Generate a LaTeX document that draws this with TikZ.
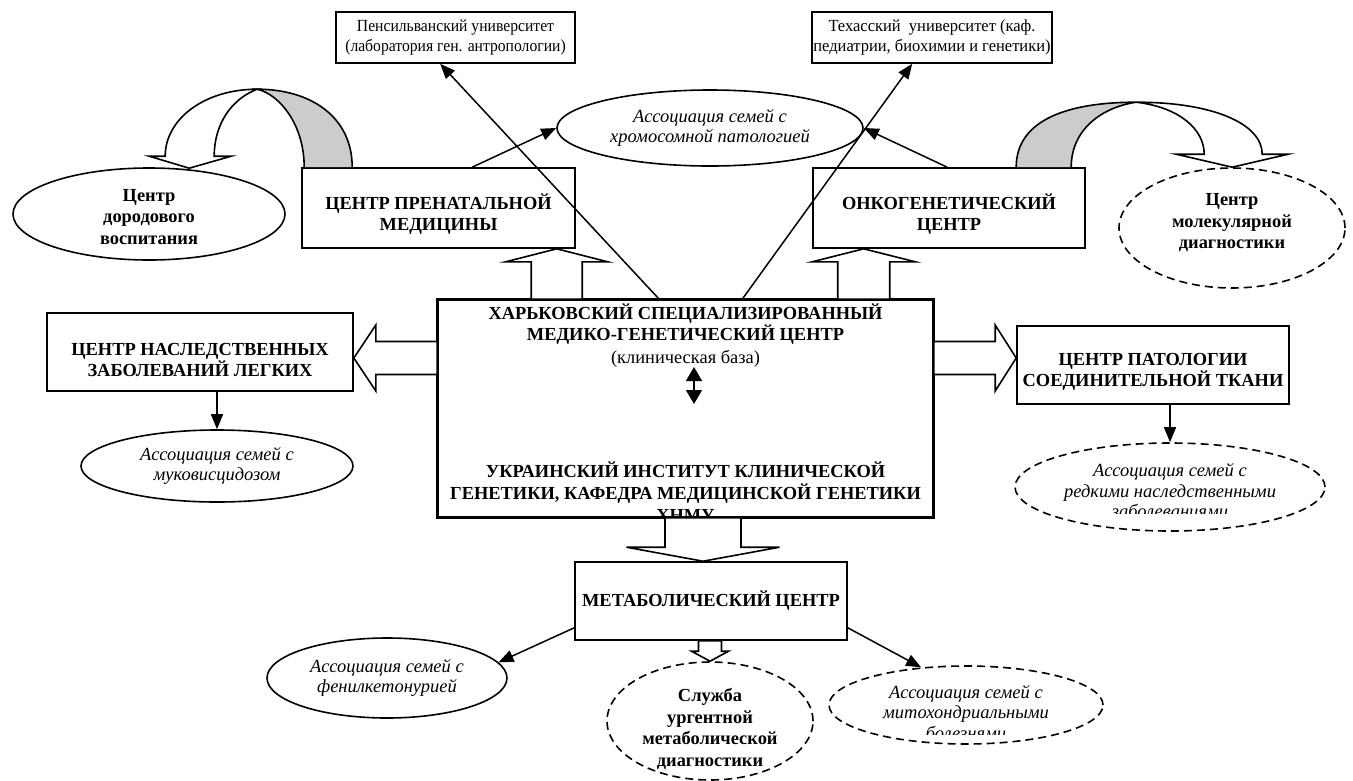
\documentclass[tikz,border=0pt]{standalone}
\usepackage{fontspec}
\setmainfont{Liberation Serif}
\usetikzlibrary{arrows.meta,shapes.geometric,calc}

\newcommand\blockarr[5]{%
  \coordinate (bh) at ($(#2)!#5!(#1)$);
  \draw[blockarrow] ($(#1)!#3!90:(#2)$) -- ($(bh)!#3!90:(#2)$) -- ($(bh)!#4!90:(#2)$) -- (#2)
     -- ($(bh)!#4!-90:(#2)$) -- ($(bh)!#3!-90:(#2)$) -- ($(#1)!#3!-90:(#2)$) -- cycle;}

\tikzset{
  boxn/.style={draw, line width=1.6pt, rectangle, inner sep=0pt, align=center, fill=white},
  ell/.style={draw, line width=1.6pt, ellipse, inner sep=-25pt, align=center, fill=white},
  dashell/.style={ell, dash pattern=on 8pt off 5pt},
  txt/.style={align=center, inner sep=0pt},
  bfont/.style={font=\fontsize{18.4}{21.5}\selectfont\bfseries},
  ifont/.style={font=\fontsize{18.5}{20.5}\selectfont\itshape},
  rfont/.style={font=\fontsize{17}{20}\selectfont\addfontfeatures{FakeStretch=#1}},
  arr/.style={line width=1.5pt, -{Triangle[length=15pt,width=12pt]}},
  blockarrow/.style={draw, line width=1.6pt, fill=white, line join=miter},
  ribbon/.style={draw, line width=1.6pt},
}

\begin{document}
\begin{tikzpicture}[x=1pt, y=-1pt]
\fill[white] (0,0) rectangle (1353,780);
\useasboundingbox (0,0) rectangle (1353,780);

% top boxes
\node[boxn, rfont=0.92, minimum width=239pt, minimum height=51pt] (penn) at (455.5,37.5)
  {Пенсильванский университет\\(лаборатория ген. антропологии)};
\node[boxn, rfont=0.97, minimum width=240pt, minimum height=51pt] (texas) at (932,37.5)
  {Техасский\ \ университет (каф.\\педиатрии, биохимии и генетики)};

\node[ell, ifont, minimum width=306pt, minimum height=76pt] (chrom) at (710,128)
  {Ассоциация семей с\\хромосомной патологией};

% second row
\node[boxn, minimum width=273pt, minimum height=80pt] (prenat) at (438.5,208) {};
\node[txt, bfont] (prenatT) at ([yshift=-6pt]prenat.center) {ЦЕНТР ПРЕНАТАЛЬНОЙ\\МЕДИЦИНЫ};
\node[boxn, minimum width=272pt, minimum height=80pt] (onko) at (949,208) {};
\node[txt, bfont] (onkoT) at ([yshift=-6pt]onko.center) {ОНКОГЕНЕТИЧЕСКИЙ\\ЦЕНТР};
\node[ell, minimum width=272pt, minimum height=92pt] (dorod) at (149,214) {};
\node[txt, bfont] (dorodT) at ([yshift=-3pt]dorod.center) {Центр\\дородового\\воспитания};
\node[dashell, minimum width=226pt, minimum height=120pt] (molek) at (1232,228) {};
\node[txt, bfont] (molekT) at ([yshift=5pt]molek.center) {Центр\\молекулярной\\диагностики};

% ribbon arrows
\begin{scope}[shift={(prenat.north west)}]
  \fill[gray!40] (51,0) .. controls (51,-50) and (10,-78) .. (-44,-78)
     .. controls (-22,-73) and (3,-43) .. (3,0) -- cycle;
  \draw[ribbon] (51,0) .. controls (51,-50) and (10,-78) .. (-44,-78)
     .. controls (-22,-73) and (3,-43) .. (3,0);
  \draw[ribbon, fill=white, line join=miter] (-44,-78) .. controls (-97,-78) and (-136,-48) .. (-136,-11)
     -- (-152,-11) -- (-112,1) -- (-70,-11) -- (-87,-11)
     .. controls (-87,-43) and (-70,-68) .. (-44,-78) -- cycle;
\end{scope}
\begin{scope}[shift={(onko.north west)}]
  \fill[gray!40] (204,0) .. controls (204,-48) and (257,-65) .. (324,-65)
     .. controls (290,-60) and (259,-38) .. (259,0) -- cycle;
  \draw[ribbon] (204,0) .. controls (204,-48) and (257,-65) .. (324,-65)
     .. controls (290,-60) and (259,-38) .. (259,0);
  \draw[ribbon, fill=white, line join=miter] (324,-65) .. controls (402,-65) and (450,-43) .. (450,-13)
     -- (476,-13) -- (420,0) -- (364,-13) -- (392,-13)
     .. controls (392,-38) and (367,-60) .. (324,-65) -- cycle;
\end{scope}

% central box
\node[boxn, minimum width=495pt, minimum height=217pt] (central) at (685.5,408.5) {};
\node[txt, bfont] (ctop) at (685.5,335.5)
  {ХАРЬКОВСКИЙ СПЕЦИАЛИЗИРОВАННЫЙ\\МЕДИКО-ГЕНЕТИЧЕСКИЙ ЦЕНТР\\[1pt]{\mdseries (клиническая база)}};
\begin{scope}
  \clip (central.north west) rectangle (central.south east);
  \node[txt, font=\fontsize{18.4}{22}\selectfont\bfseries] (cbot) at (685.5,492)
    {УКРАИНСКИЙ ИНСТИТУТ КЛИНИЧЕСКОЙ\\ГЕНЕТИКИ, КАФЕДРА МЕДИЦИНСКОЙ ГЕНЕТИКИ\\ХНМУ};
\end{scope}
\draw[line width=1.6pt] (central.north west) rectangle (central.south east);
\coordinate (da1) at ([xshift=8.5pt, yshift=41.5pt]central.center);
\coordinate (da2) at ([xshift=8.5pt, yshift=4.5pt]central.center);
\draw[line width=1.5pt, {Triangle[length=14pt,width=16pt]}-{Triangle[length=14pt,width=16pt]}] (da1) -- (da2);

% side boxes
\node[boxn, minimum width=306pt, minimum height=78pt] (nasl) at (200,352) {};
\node[txt, bfont] (naslT) at ([yshift=-8pt]nasl.center) {ЦЕНТР НАСЛЕДСТВЕННЫХ\\ЗАБОЛЕВАНИЙ ЛЕГКИХ};
\node[boxn, minimum width=272pt, minimum height=78pt] (patol) at (1153,365) {};
\node[txt, bfont] (patolT) at ([yshift=-7pt]patol.center) {ЦЕНТР ПАТОЛОГИИ\\СОЕДИНИТЕЛЬНОЙ ТКАНИ};
\node[ell, ifont, minimum width=272pt, minimum height=72pt] (muko) at (217,466)
  {Ассоциация семей с\\муковисцидозом};
\node[dashell, minimum width=310pt, minimum height=88pt] (patolell) at (1170,487) {};
\begin{scope}
  \clip (1000,440) rectangle (1340,513);
  \node[txt, ifont] (patoltext) at (1170,491)
    {Ассоциация семей с\\редкими наследственными\\заболеваниями};
\end{scope}

% bottom
\node[boxn, bfont, minimum width=272pt, minimum height=78pt] (metab) at (711,601)
  {МЕТАБОЛИЧЕСКИЙ ЦЕНТР};
\node[ell, ifont, minimum width=240pt, minimum height=80pt] (fenil) at (387,678)
  {Ассоциация семей с\\фенилкетонурией};
\node[dashell, minimum width=206pt, minimum height=118pt] (sluzhba) at (710,721) {};
\node[txt, font=\fontsize{18.4}{21.7}\selectfont\bfseries] (sluzhbaT) at ([yshift=-8pt]sluzhba.center)
  {Служба\\ургентной\\метаболической\\диагностики};
\node[dashell, minimum width=274pt, minimum height=78pt] (mito) at (966,705) {};
\begin{scope}
  \clip (820,660) rectangle (1110,734);
  \node[txt, ifont] (mitotext) at (966,712.5)
    {Ассоциация семей с\\митохондриальными\\болезнями};
\end{scope}

% block arrows
\coordinate (t1) at ([xshift=255.5pt]prenat.south west);
\coordinate (s1) at (t1 |- central.north);
\blockarr{s1}{t1}{25.5pt}{51pt}{13pt}
\coordinate (t2) at ([xshift=51.5pt]onko.south west);
\coordinate (s2) at (t2 |- central.north);
\blockarr{s2}{t2}{26pt}{51.5pt}{13pt}
\coordinate (t3) at ([yshift=-6pt]nasl.east);
\coordinate (s3) at (central.west |- t3);
\blockarr{s3}{t3}{16.5pt}{33pt}{22pt}
\coordinate (t4) at ([yshift=7pt]patol.west);
\coordinate (s4) at (central.east |- t4);
\blockarr{s4}{t4}{16.5pt}{33pt}{21pt}
\coordinate (t5) at ([xshift=-8pt]metab.north);
\coordinate (s5) at (t5 |- central.south);
\blockarr{s5}{t5}{38pt}{76.5pt}{14pt}
\coordinate (t6) at (sluzhba.north);
\coordinate (s6) at (t6 |- metab.south);
\blockarr{s6}{t6}{11.5pt}{18.5pt}{10pt}

% thin arrows
\draw[arr] ([xshift=222pt]central.north west) -- ([xshift=105pt]penn.south west);
\draw[arr] ([xshift=305pt]central.north west) -- ([xshift=101pt]texas.south west);
\draw[arr] ([xshift=171pt]prenat.north west) -- (chrom.west);
\draw[arr] ([xshift=135pt]onko.north west) -- (chrom.east);
\draw[arr] (muko.north |- nasl.south) -- (muko.north);
\draw[arr] (patolell.north |- patol.south) -- (patolell.north);
\draw[arr] ([yshift=13pt]metab.south west) -- (fenil.8);
\draw[arr] ([yshift=13pt]metab.south east) -- (mito.140);
\end{tikzpicture}
\end{document}
